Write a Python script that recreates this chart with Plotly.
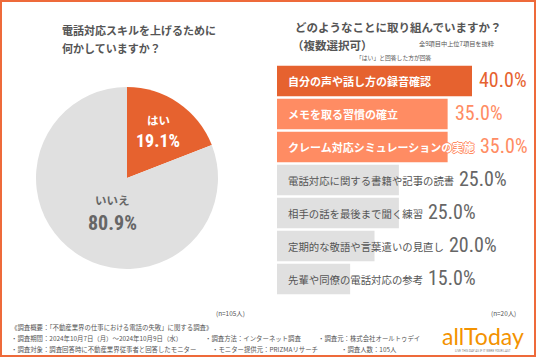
import plotly.graph_objects as go

# ---------------- data ----------------
pie_labels = ["はい", "いいえ"]
pie_values = [19.1, 80.9]

items = [
    "自分の声や話し方の録音確認",
    "メモを取る習慣の確立",
    "クレーム対応シミュレーションの実施",
    "電話対応に関する書籍や記事の読書",
    "相手の話を最後まで聞く練習",
    "定期的な敬語や言葉遣いの見直し",
    "先輩や同僚の電話対応の参考",
]
item_values = [40.0, 35.0, 35.0, 25.0, 25.0, 20.0, 15.0]

# ---------------- style ----------------
W, H = 536, 357
ORANGE = "#E6622F"
SALMON = "#FF8C63"
GRAY = "#E0E0E0"
TXT = "#555555"
JP = "Noto Sans CJK JP"
NUM = "Roboto Condensed, Liberation Sans Narrow, Roboto, sans-serif"


def px(x):
    return x / W


def py(y):
    return 1 - y / H


bar_colors = [ORANGE, SALMON, SALMON, GRAY, GRAY, GRAY, GRAY]
lab_colors = ["white"] * 3 + ["#555555"] * 4
val_colors = [ORANGE, SALMON, SALMON] + ["#666666"] * 4
lab_sizes = [11] * 3 + [10.4] * 4

X0, X1 = 277, 520.75
XMAX = 50
ppu = (X1 - X0) / XMAX

fig = go.Figure()

fig.add_trace(go.Pie(
    labels=pie_labels, values=pie_values,
    marker=dict(colors=[ORANGE, "#E0E0E0"], line=dict(width=0)),
    sort=False, direction="clockwise", rotation=0,
    textinfo="none", hoverinfo="skip", showlegend=False,
    domain=dict(x=[px(36), px(218)], y=[py(269), py(87)]),
))

fig.add_trace(go.Bar(
    x=item_values, y=items, orientation="h",
    marker=dict(color=bar_colors, line=dict(width=0)),
    width=0.92, showlegend=False, hoverinfo="skip",
))

ann = []
# bar labels and values
for i, (name, v) in enumerate(zip(items, item_values)):
    lab_px = 9 + len(name) * lab_sizes[i]
    bar_px = v * ppu
    font = dict(family=JP, size=lab_sizes[i], color=lab_colors[i],
                weight="bold" if i < 3 else "normal")
    if i == 2:
        font["shadow"] = ("1px 0 0 %s, -1px 0 0 %s, 0 1px 0 %s, 0 -1px 0 %s"
                          % (SALMON, SALMON, SALMON, SALMON))
    ann.append(dict(x=0, y=name, xref="x", yref="y", text=name,
                    xanchor="left", yanchor="middle", xshift=9,
                    showarrow=False, font=font))
    shift = max(bar_px, lab_px) - bar_px + 5
    ann.append(dict(x=v, y=name, xref="x", yref="y", text="%.1f%%" % v,
                    xanchor="left", yanchor="middle", xshift=shift, yshift=1,
                    showarrow=False,
                    font=dict(family=NUM, size=20, color=val_colors[i])))


def txt(x, y, s, size, color=TXT, anchor="left", family=JP, weight="normal"):
    ann.append(dict(x=px(x), y=py(y), xref="paper", yref="paper", text=s,
                    xanchor=anchor, yanchor="middle", showarrow=False,
                    font=dict(family=family, size=size, color=color, weight=weight)))


# pie labels
txt(158, 120, pie_labels[0], 11.5, "white", "center", weight="bold")
txt(158, 141, "%.1f%%" % pie_values[0], 18, "white", "center", NUM, "bold")
txt(112, 200, pie_labels[1], 11.5, "#666666", "center", weight="bold")
txt(112, 223, "%.1f%%" % pie_values[1], 20, "#666666", "center", NUM, "bold")

# titles
txt(60, 30, "電話対応スキルを上げるために", 11, "#555555", weight="bold")
txt(60, 48, "何かしていますか？", 11, "#555555", weight="bold")
txt(293, 27, "どのようなことに取り組んでいますか？", 11.5, "#555555", weight="bold")
txt(290, 45, "（複数選択可）", 11.5, "#555555", weight="bold")
txt(417, 43, "全9項目中上位7項目を抜粋", 6.2, "#555555")
txt(394, 58, "「はい」と回答した方が回答", 5.8, "#555555", "center")

# n labels
txt(230, 313, "(n=105人)", 6.4, "#555555", "center")
txt(503, 313, "(n=20人)", 6.4, "#555555", "center")

# footer
FS = 6.4
txt(9, 327, "《調査概要：「不動産業界の仕事における電話の失敗」に関する調査》", FS)
txt(9, 338, "・調査期間：2024年10月7日（月）～2024年10月9日（水）", FS)
txt(203, 338, "・調査方法：インターネット調査", FS)
txt(316, 338, "・調査元：株式会社オールトゥデイ", FS)
txt(9, 349, "・調査対象：調査回答時に不動産業界従事者と回答したモニター", FS)
txt(210, 349, "・モニター提供元：PRIZMAリサーチ", FS)
txt(339, 349, "・調査人数：105人", FS)

# logo
txt(483, 336, "allToday", 23, "#F39200", "center", "Lato, Roboto, sans-serif")
txt(483, 351, "LIVE THIS DAY AS IF IT WERE YOUR LAST", 3, "#777777", "center",
    "Roboto, sans-serif")

fig.update_layout(
    width=W, height=H,
    margin=dict(l=0, r=0, t=0, b=0),
    paper_bgcolor="white", plot_bgcolor="white",
    xaxis=dict(domain=[px(X0), px(X1)], range=[0, XMAX], visible=False,
               fixedrange=True),
    yaxis=dict(domain=[py(295.5), py(64.5)], autorange="reversed",
               visible=False, fixedrange=True),
    annotations=ann,
    shapes=[dict(type="rect", xref="paper", yref="paper",
                 x0=px(1), x1=px(W - 1), y0=py(H - 1), y1=py(1),
                 line=dict(color="#EE6A3A", width=2), layer="above")],
)

fig.write_html(
    "out.html",
    config={"displayModeBar": False},
    post_script="document.body.style.margin='0';document.body.style.overflow='hidden';",
)
